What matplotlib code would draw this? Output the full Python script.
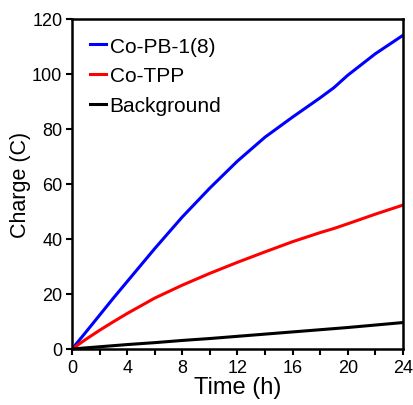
import matplotlib.pyplot as plt
import numpy as np

plt.rcParams['font.family'] = 'sans-serif'
plt.rcParams['font.sans-serif'] = ['Liberation Sans', 'DejaVu Sans']
plt.rcParams['axes.linewidth'] = 1.8

# values
time_h = [0, 1, 2, 3, 4, 6, 8, 10, 12, 14, 16, 18, 19, 20, 22, 24]
co_pb = [0, 6.1, 12.3, 18.5, 24.5, 36.5, 48, 58.5, 68.3, 77, 84.3, 91.3, 95, 99.5, 107.3, 114]
co_tpp = [0, 3.5, 6.8, 9.9, 12.9, 18.5, 23.2, 27.5, 31.5, 35.3, 39, 42.3, 43.8, 45.5, 49, 52.3]
background = [0, 0.4, 0.8, 1.2, 1.6, 2.3, 3.1, 3.8, 4.6, 5.4, 6.2, 7.0, 7.4, 7.8, 8.7, 9.6]

fig = plt.figure(figsize=(4.14, 4.06), dpi=100)
ax = fig.add_axes([0.174, 0.138, 0.799, 0.813])

ax.plot(time_h, co_pb, color='#0000ff', lw=2.2, label='Co-PB-1(8)')
ax.plot(time_h, co_tpp, color='#ff0000', lw=2.2, label='Co-TPP')
ax.plot(time_h, background, color='black', lw=2.2, label='Background')

ax.set_xlim(0, 24)
ax.set_ylim(0, 120)
ax.set_xticks(np.arange(0, 25, 4))
ax.set_xticks(np.arange(0, 25, 2), minor=True)
ax.set_yticks(np.arange(0, 121, 20))
ax.tick_params(which='both', direction='out', width=1.5, labelsize=13, pad=3)
ax.tick_params(which='major', length=4)
ax.tick_params(which='minor', length=4)

ax.set_xlabel('Time (h)', fontsize=17, labelpad=0)
ax.set_ylabel('Charge (C)', fontsize=15.5, labelpad=1)

ax.legend(loc='upper left', frameon=False, fontsize=15, handlelength=0.8,
          handletextpad=0.15, labelspacing=0.52, borderaxespad=0.45)

fig.savefig('out.png', dpi=100)
